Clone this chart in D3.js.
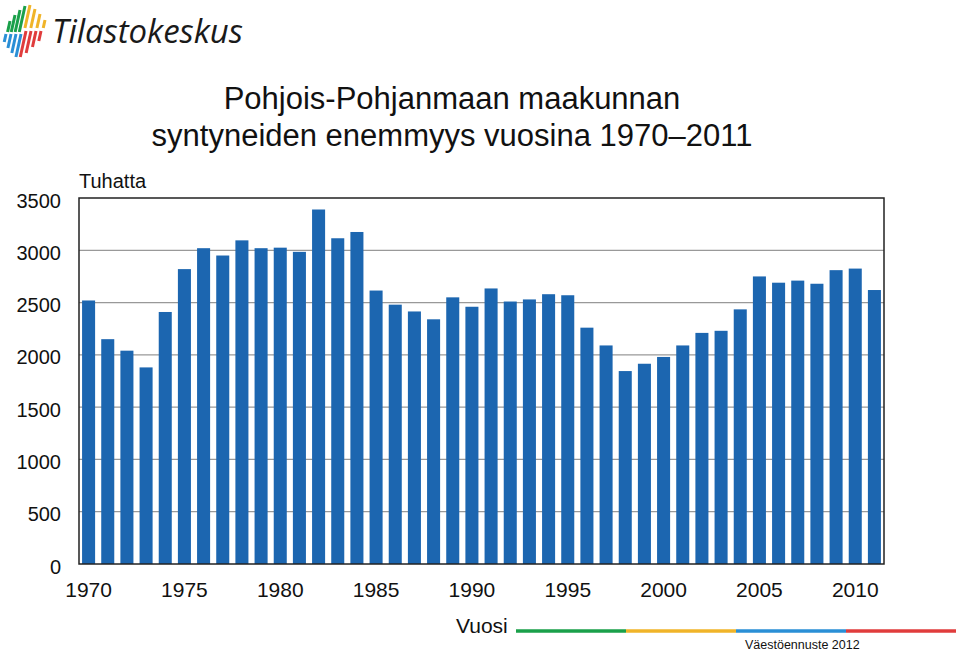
<!DOCTYPE html>
<html><head><meta charset="utf-8">
<script src="https://cdn.jsdelivr.net/npm/d3@7"></script>
<style>body{margin:0;background:#fff}svg{display:block;font-family:"Liberation Sans",Arial,sans-serif}</style>
</head><body><svg id="c" width="960" height="652"></svg>
<script>
const years = d3.range(1970, 2012);
const values = [2520,2150,2040,1880,2410,2820,3020,2950,3095,3020,3025,2985,3390,3115,3175,2615,2480,2415,2340,2550,2460,2635,2510,2530,2580,2570,2260,2090,1845,1915,1980,2090,2210,2230,2435,2750,2690,2710,2680,2810,2825,2620];
const yTicks = [0,500,1000,1500,2000,2500,3000,3500];
const xTickYears = [1970,1975,1980,1985,1990,1995,2000,2005,2010];
const titleLines = ["Pohjois-Pohjanmaan maakunnan","syntyneiden enemmyys vuosina 1970\u20132011"];
const stripeColors = ["#1aa04a","#f0b429","#2a8fd6","#e03c3c"];

const svg = d3.select("#c");
const L=79, R=884, T=198, B=564;
const x = d3.scaleBand().domain(years).range([L,R]).paddingInner(0.32).paddingOuter(0.16);
const y = d3.scaleLinear().domain([0,3500]).range([B,T]);

// grid
svg.append("g").selectAll("line").data(yTicks.filter(d=>d>0&&d<3500)).join("line")
  .attr("x1",L).attr("x2",R).attr("y1",d=>y(d)).attr("y2",d=>y(d))
  .attr("stroke","#999").attr("stroke-width",1.2);

// bars
svg.append("g").selectAll("rect").data(years).join("rect")
  .attr("x",d=>x(d)).attr("width",x.bandwidth())
  .attr("y",(d,i)=>y(values[i])).attr("height",(d,i)=>B-y(values[i]))
  .attr("fill","#1c66b0");

// frame
svg.append("rect").attr("x",L).attr("y",T).attr("width",R-L).attr("height",B-T)
  .attr("fill","none").attr("stroke","#222").attr("stroke-width",1.5);

// y axis labels
const ya = svg.append("g").attr("transform",`translate(${L-18},0)`)
  .call(d3.axisLeft(y).tickValues(yTicks).tickFormat(d3.format("d")).tickSize(0).tickPadding(0));
ya.select(".domain").remove();
ya.selectAll("text").attr("font-size",20).attr("fill","#111").attr("font-family","Liberation Sans, Arial, sans-serif").attr("dy","0.45em");

// x axis labels
const xa = svg.append("g").attr("transform",`translate(0,${B})`)
  .call(d3.axisBottom(x).tickValues(xTickYears).tickFormat(d3.format("d")).tickSize(0).tickPadding(0));
xa.select(".domain").remove();
xa.selectAll("text").attr("font-size",21).attr("fill","#111").attr("font-family","Liberation Sans, Arial, sans-serif").attr("y",33).attr("dy",0);

// title
svg.append("g").selectAll("text").data(titleLines).join("text")
  .attr("x",452).attr("y",(d,i)=>109+i*37).attr("text-anchor","middle")
  .attr("font-size",31).attr("fill","#111").text(d=>d);

svg.append("text").attr("x",79).attr("y",188).attr("font-size",20).attr("fill","#111").text("Tuhatta");
svg.append("text").attr("x",456).attr("y",633).attr("font-size",21).attr("fill","#111").text("Vuosi");

// footer colored line
const fx = d3.scaleLinear().domain([0,4]).range([516,956]);
svg.append("g").selectAll("line").data(stripeColors).join("line")
  .attr("x1",(d,i)=>fx(i)).attr("x2",(d,i)=>fx(i+1)).attr("y1",631).attr("y2",631)
  .attr("stroke",d=>d).attr("stroke-width",3.5);
svg.append("text").attr("x",745).attr("y",649).attr("font-size",12.5).attr("fill","#111").text("Väestöennuste 2012");

// logo
const logo = svg.append("g");
const stripes = [
  {c:"#1aa04a",x:10,y1:21,y2:32},{c:"#1aa04a",x:15,y1:15,y2:32},{c:"#1aa04a",x:20,y1:10,y2:32},{c:"#1aa04a",x:25,y1:6,y2:32},
  {c:"#f0b429",x:30,y1:5,y2:28},{c:"#f0b429",x:35,y1:9,y2:28},{c:"#f0b429",x:40,y1:14,y2:28},{c:"#f0b429",x:45,y1:20,y2:28},
  {c:"#2a8fd6",x:6,y1:34,y2:42},{c:"#2a8fd6",x:11,y1:34,y2:48},{c:"#2a8fd6",x:16,y1:34,y2:53},{c:"#2a8fd6",x:21,y1:34,y2:57},
  {c:"#e03c3c",x:26,y1:31,y2:57},{c:"#e03c3c",x:31,y1:31,y2:53},{c:"#e03c3c",x:36,y1:31,y2:47},{c:"#e03c3c",x:41,y1:31,y2:41}
];
logo.selectAll("line").data(stripes).join("line")
  .attr("x1",d=>d.x).attr("y1",d=>d.y1)
  .attr("x2",d=>d.x-(d.y2-d.y1)*0.22).attr("y2",d=>d.y2)
  .attr("stroke",d=>d.c).attr("stroke-width",3);
logo.append("text").attr("x",52).attr("y",43).attr("font-size",33).attr("font-style","italic")
  .attr("font-family","Open Sans, Liberation Sans, sans-serif").attr("fill","#1a1a1a").attr("textLength",191).text("Tilastokeskus");
</script></body></html>
